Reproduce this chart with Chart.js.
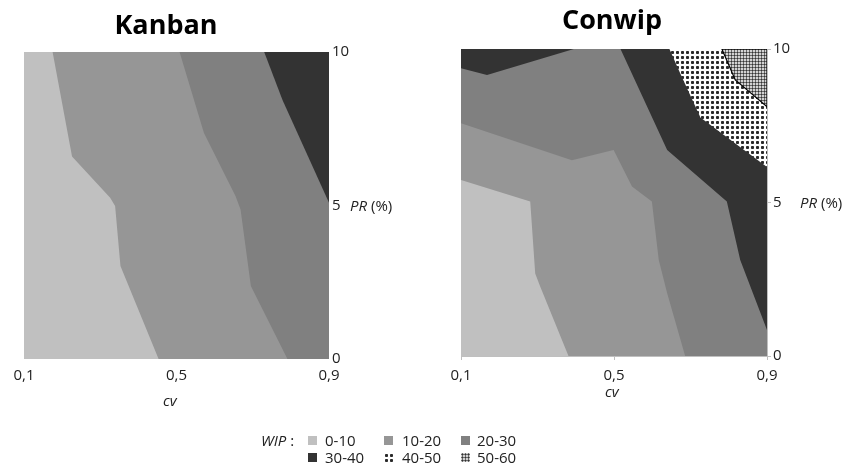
<!DOCTYPE html>
<html>
<head>
<meta charset="utf-8">
<script src="https://cdn.jsdelivr.net/npm/chart.js@4.4.1/dist/chart.umd.min.js"></script>
<style>
  body { margin: 0; width: 845px; height: 465px; background: #fff; position: relative; overflow: hidden; font-family: 'Open Sans', sans-serif; color: #222; }
  .abs { position: absolute; white-space: nowrap; }
  .title { font-weight: bold; font-size: 27px; line-height: 34px; width: 200px; text-align: center; color: #000; }
  .lbl { font-size: 15px; line-height: 18px; }
  canvas { position: absolute; top: 0; }
</style>
</head>
<body>
<canvas id="kanban" width="420" height="400" style="left:0"></canvas>
<canvas id="conwip" width="415" height="400" style="left:430px"></canvas>

<div class="abs title" style="left:66px; top:7px">Kanban</div>
<div class="abs title" style="left:512px; top:2px">Conwip</div>
<div class="abs lbl" style="left:350px; top:196px"><i>PR</i> (%)</div>
<div class="abs lbl" style="left:800px; top:193px"><i>PR</i> (%)</div>
<div class="abs lbl" style="left:163px; top:391px"><i>cv</i></div>
<div class="abs lbl" style="left:605px; top:382px"><i>cv</i></div>
<div class="abs lbl" style="left:261px; top:431px"><i>WIP</i> :</div>
<div id="legend"></div>

<script>
// axis ticks
const cvTicks = [0.1, 0.5, 0.9];
const prTicks = [0, 5, 10];
const wipLabels = ['0-10', '10-20', '20-30', '30-40', '40-50', '50-60'];

// contour lines, points are [cv, PR (%)]
const kanban10 = [[0.175, 10], [0.226, 6.6], [0.326, 5.25], [0.339, 4.98], [0.353, 3.03], [0.453, 0]];
const kanban20 = [[0.508, 10], [0.572, 7.36], [0.655, 5.3], [0.668, 4.87], [0.695, 2.38], [0.791, 0]];
const kanban30 = [[0.730, 10], [0.778, 8.44], [0.9, 5.09]];

const conwip10 = [[0.1, 5.73], [0.281, 5.03], [0.294, 2.69], [0.307, 2.26], [0.381, 0]];
const conwip20 = [[0.1, 7.58], [0.39, 6.38], [0.499, 6.71], [0.547, 5.52], [0.599, 5.03], [0.617, 3.13], [0.639, 2.04], [0.686, 0]];
const conwip30a = [[0.1, 9.37], [0.168, 9.15], [0.395, 10]];
const conwip30b = [[0.517, 10], [0.639, 6.71], [0.795, 5.03], [0.804, 4.54], [0.83, 3.13], [0.9, 0.85]];
const conwip40 = [[0.645, 10], [0.673, 9.21], [0.726, 7.77], [0.804, 7.04], [0.9, 6.16]];
const conwip50 = [[0.782, 10], [0.817, 8.99], [0.9, 8.12]];

// corners of the cv / PR domain, used to close the regions
const cvMin = cvTicks[0], cvMax = cvTicks[cvTicks.length - 1];
const prMin = prTicks[0], prMax = prTicks[prTicks.length - 1];
const BL = [cvMin, prMin], BR = [cvMax, prMin], TR = [cvMax, prMax], TL = [cvMin, prMax];

function makePattern(size, paint) {
    const c = document.createElement('canvas');
    c.width = size; c.height = size;
    const g = c.getContext('2d');
    paint(g);
    return g.createPattern(c, 'repeat');
}

// 40-50: round dark dots on white, 5px apart
const dots = makePattern(5, g => {
    g.fillStyle = '#fff'; g.fillRect(0, 0, 5, 5);
    g.fillStyle = '#555'; g.fillRect(1, 1, 3, 3);
    g.fillStyle = '#2a2a2a';
    g.fillRect(2, 1, 1, 3); g.fillRect(1, 2, 3, 1);
});
// 50-60: grey texture with small light spots
const checks = makePattern(3, g => {
    g.fillStyle = '#d2d2d2'; g.fillRect(0, 0, 3, 3);
    g.fillStyle = '#6a6a6a';
    g.fillRect(1, 0, 1, 3); g.fillRect(0, 1, 3, 1);
    g.fillStyle = '#333'; g.fillRect(1, 1, 1, 1);
});

const levelFill = ['#c0c0c0', '#969696', '#808080', '#333333', dots, checks];

function region(line, closing, level, outline) {
    let pts = line.concat(closing);
    if (outline) pts = pts.concat([line[0]]);
    return {
        data: pts.map(([x, y]) => ({ x, y })),
        showLine: true,
        fill: 'shape',
        backgroundColor: levelFill[level],
        borderColor: '#000',
        borderWidth: outline ? 1.2 : 0,
        pointRadius: 0,
        tension: 0,
        order: 10 - level
    };
}

function makeChart(id, datasets, ax) {
    const tickFont = { family: 'Open Sans', size: 15 };
    new Chart(document.getElementById(id).getContext('2d'), {
        type: 'scatter',
        data: { datasets },
        options: {
            responsive: false,
            animation: false,
            events: [],
            layout: { padding: { left: ax.left, top: ax.top, right: 0, bottom: 0 } },
            plugins: { legend: { display: false }, tooltip: { enabled: false } },
            scales: {
                x: {
                    type: 'linear', position: 'bottom', min: cvMin, max: cvMax,
                    afterBuildTicks: s => { s.ticks = cvTicks.map(v => ({ value: v })); },
                    afterFit: s => { s.height = ax.xh; },
                    ticks: { font: tickFont, color: '#222', padding: ax.xpad, maxRotation: 0,
                        callback: v => v.toFixed(1).replace('.', ',') },
                    grid: { display: ax.lines, drawOnChartArea: false, drawTicks: ax.lines, tickLength: 4, color: '#bfbfbf' },
                    border: { display: ax.lines, color: '#bfbfbf' }
                },
                y: {
                    type: 'linear', position: 'right', min: prMin, max: prMax,
                    afterBuildTicks: s => { s.ticks = prTicks.map(v => ({ value: v })); },
                    afterFit: s => { s.width = ax.yw; },
                    ticks: { font: tickFont, color: '#222', padding: ax.ypad },
                    grid: { display: ax.lines, drawOnChartArea: false, drawTicks: ax.lines, tickLength: 4, color: '#bfbfbf' },
                    border: { display: ax.lines, color: '#bfbfbf' }
                }
            }
        }
    });
}

makeChart('kanban', [
    region([BL, BR, TR, TL], [], 0),
    region(kanban10, [BR, TR], 1),
    region(kanban20, [BR, TR], 2),
    region(kanban30, [TR], 3)
], { left: 24, top: 52, xh: 41, yw: 91, xpad: 8, ypad: 3, lines: false });

makeChart('conwip', [
    region([BL, BR, TR, TL], [], 0),
    region(conwip10, [BR, TR, TL], 1),
    region(conwip20, [BR, TR, TL], 2),
    region(conwip30a, [TL], 3),
    region(conwip30b, [TR], 3),
    region(conwip40, [TR], 4),
    region(conwip50, [TR], 5, true)
], { left: 31, top: 49, xh: 44, yw: 78, xpad: 7, ypad: 2, lines: true });

// legend: three columns, two rows
const legend = document.getElementById('legend');
const swX = [308, 384, 461], txtX = [325, 402, 477], rowY = [431, 448];
wipLabels.forEach((lab, i) => {
    const col = i % 3, row = Math.floor(i / 3);
    const sw = document.createElement('canvas');
    sw.width = 9; sw.height = 9;
    sw.style.left = swX[col] + 'px';
    sw.style.top = (rowY[row] + 5) + 'px';
    const g = sw.getContext('2d');
    g.fillStyle = levelFill[i];
    g.fillRect(0, 0, 9, 9);
    legend.appendChild(sw);
    const t = document.createElement('div');
    t.className = 'abs lbl';
    t.style.left = txtX[col] + 'px';
    t.style.top = rowY[row] + 'px';
    t.textContent = lab;
    legend.appendChild(t);
});
</script>
</body>
</html>
